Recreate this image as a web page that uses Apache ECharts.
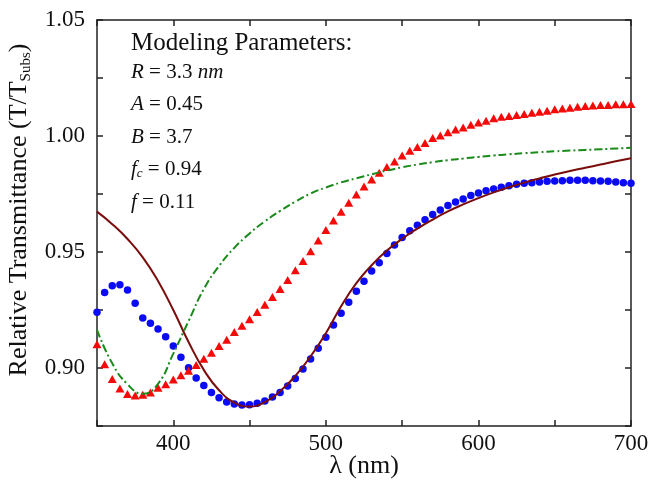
<!DOCTYPE html>
<html>
<head>
<meta charset="utf-8">
<script src="https://cdn.jsdelivr.net/npm/echarts@6/dist/echarts.min.js"></script>
<style>
  html, body { margin: 0; padding: 0; background: #fff; }
  #chart { width: 652px; height: 486px; }
</style>
</head>
<body>
<div id="chart"></div>
<script>
// measured points, every 5 nm
const lambdaPts = [
  350, 355, 360, 365, 370, 375, 380, 385, 390, 395,
  400, 405, 410, 415, 420, 425, 430, 435, 440, 445,
  450, 455, 460, 465, 470, 475, 480, 485, 490, 495,
  500, 505, 510, 515, 520, 525, 530, 535, 540, 545,
  550, 555, 560, 565, 570, 575, 580, 585, 590, 595,
  600, 605, 610, 615, 620, 625, 630, 635, 640, 645,
  650, 655, 660, 665, 670, 675, 680, 685, 690, 695, 700,
];
const bluePts = [
  0.9240, 0.9325, 0.9355, 0.9359, 0.9336, 0.9279, 0.9216, 0.9193, 0.9168, 0.9135,
  0.9095, 0.9046, 0.9001, 0.8957, 0.8925, 0.8894, 0.8872, 0.8853, 0.8845, 0.8840,
  0.8842, 0.8848, 0.8858, 0.8875, 0.8894, 0.8922, 0.8955, 0.8996, 0.9039, 0.9085,
  0.9133, 0.9185, 0.9236, 0.9283, 0.9331, 0.9374, 0.9418, 0.9454, 0.9494, 0.9530,
  0.9563, 0.9592, 0.9615, 0.9639, 0.9662, 0.9681, 0.9700, 0.9716, 0.9728, 0.9743,
  0.9754, 0.9764, 0.9772, 0.9779, 0.9786, 0.9792, 0.9796, 0.9799, 0.9802, 0.9805,
  0.9806, 0.9807, 0.9809, 0.9809, 0.9809, 0.9807, 0.9806, 0.9805, 0.9802, 0.9799, 0.9796,
];
const redPts = [
  0.9102, 0.9016, 0.8953, 0.8912, 0.8888, 0.8881, 0.8885, 0.8894, 0.8915, 0.8930,
  0.8950, 0.8969, 0.8988, 0.9013, 0.9040, 0.9066, 0.9095, 0.9122, 0.9155, 0.9182,
  0.9210, 0.9241, 0.9273, 0.9306, 0.9341, 0.9379, 0.9421, 0.9461, 0.9503, 0.9550,
  0.9595, 0.9636, 0.9673, 0.9712, 0.9748, 0.9782, 0.9812, 0.9842, 0.9866, 0.9890,
  0.9916, 0.9936, 0.9953, 0.9970, 0.9991, 1.0002, 1.0016, 1.0028, 1.0037, 1.0048,
  1.0058, 1.0066, 1.0076, 1.0083, 1.0086, 1.0090, 1.0095, 1.0100, 1.0105, 1.0109,
  1.0115, 1.0119, 1.0122, 1.0126, 1.0129, 1.0132, 1.0134, 1.0134, 1.0137, 1.0137, 1.0138,
];

// model curves, every 10 nm
const lambdaFit = [
  350, 360, 370, 380, 390, 400, 410, 420, 430, 440,
  450, 460, 470, 480, 490, 500, 510, 520, 530, 540,
  550, 560, 570, 580, 590, 600, 610, 620, 630, 640,
  650, 660, 670, 680, 690, 700,
];
const brownFit = [
  0.9674, 0.9620, 0.9556, 0.9477, 0.9375, 0.9250, 0.9112, 0.8992, 0.8904, 0.8851,
  0.8834, 0.8853, 0.8900, 0.8966, 0.9050, 0.9150, 0.9266, 0.9366, 0.9443, 0.9506,
  0.9557, 0.9601, 0.9640, 0.9675, 0.9705, 0.9732, 0.9757, 0.9779, 0.9799, 0.9817,
  0.9834, 0.9849, 0.9863, 0.9877, 0.9891, 0.9904,
];
const greenFit = [
  0.9164, 0.9020, 0.8930, 0.8889, 0.8932, 0.9062, 0.9202, 0.9340, 0.9440, 0.9518,
  0.9580, 0.9632, 0.9677, 0.9717, 0.9752, 0.9778, 0.9800, 0.9818, 0.9835, 0.9851,
  0.9865, 0.9877, 0.9887, 0.9896, 0.9903, 0.9910, 0.9916, 0.9921, 0.9926, 0.9930,
  0.9934, 0.9937, 0.9940, 0.9943, 0.9946, 0.9949,
];

const xLabels = [400, 500, 600, 700];
const yLabels = ['0.90', '0.95', '1.00', '1.05'];
const paramLines = [
  '{i|R} = 3.3 {i|nm}',
  '{i|A} = 0.45',
  '{i|B} = 3.7',
  '{i|f}{sub|c} = 0.94',
  '{i|f} = 0.11',
];

const FONT = 'Liberation Serif';
const INK = '#111';

const pairs = (xs, ys) => xs.map((x, i) => [x, ys[i]]);

const axisLine = { onZero: false, lineStyle: { color: '#222', width: 1.5 } };
const axisTick = { inside: true, length: 6, lineStyle: { color: '#222', width: 1.5 } };

const myChart = echarts.init(document.getElementById('chart'));

const paramGraphics = paramLines.map((t, i) => ({
  type: 'text',
  left: 131,
  top: 62 + i * 32.4,
  style: {
    text: t,
    font: '21px "' + FONT + '"',
    fill: INK,
    rich: {
      i: { fontFamily: FONT, fontSize: 21, fontStyle: 'italic', fill: INK },
      sub: { fontFamily: FONT, fontSize: 13, fontStyle: 'italic', fill: INK, verticalAlign: 'bottom', padding: [8, 0, 0, 0] },
    },
  },
}));

myChart.setOption({
  animation: false,
  grid: { left: 97, right: 21, top: 20, bottom: 60, outerBoundsMode: 'none', containLabel: false },
  xAxis: [
    {
      type: 'value',
      position: 'bottom',
      min: 350,
      max: 700,
      interval: 50,
      axisLine,
      axisTick,
      splitLine: { show: false },
      axisLabel: {
        fontFamily: FONT,
        fontSize: 23,
        color: INK,
        margin: 6,
        formatter: (v) => (xLabels.includes(Math.round(v)) ? String(Math.round(v)) : ''),
      },
      name: 'λ (nm)',
      nameLocation: 'middle',
      nameGap: 27,
      nameMoveOverlap: false,
      nameTextStyle: { fontFamily: FONT, fontSize: 26, color: INK },
    },
    {
      type: 'value',
      position: 'top',
      min: 350,
      max: 700,
      interval: 50,
      axisLine,
      axisTick,
      splitLine: { show: false },
      axisLabel: { show: false },
    },
  ],
  yAxis: [
    {
      type: 'value',
      position: 'left',
      min: 0.875,
      max: 1.05,
      interval: 0.025,
      axisLine,
      axisTick,
      splitLine: { show: false },
      axisLabel: {
        fontFamily: FONT,
        fontSize: 23,
        color: INK,
        margin: 12,
        formatter: (v) => {
          const s = v.toFixed(2);
          return yLabels.includes(s) && Math.abs(v - Number(s)) < 1e-6 ? s : '';
        },
      },
      name: 'Relative Transmittance (T/T{sub|Subs})',
      nameLocation: 'middle',
      nameGap: 63,
      nameMoveOverlap: false,
      nameTextStyle: {
        fontFamily: FONT,
        fontSize: 26,
        color: INK,
        lineHeight: 30,
        padding: [0, 0, 0, 26],
        rich: {
          sub: { fontFamily: FONT, fontSize: 15, color: INK, verticalAlign: 'bottom', lineHeight: 30 },
        },
      },
    },
    {
      type: 'value',
      position: 'right',
      min: 0.875,
      max: 1.05,
      interval: 0.025,
      axisLine,
      axisTick,
      splitLine: { show: false },
      axisLabel: { show: false },
    },
  ],
  graphic: [
    {
      type: 'text',
      left: 131,
      top: 31,
      style: { text: 'Modeling Parameters:', font: '25px "' + FONT + '"', fill: INK },
    },
    ...paramGraphics,
  ],
  series: [
    {
      name: 'measured A',
      type: 'scatter',
      data: pairs(lambdaPts, bluePts),
      symbol: 'circle',
      symbolSize: 7.5,
      itemStyle: { color: '#0a0af5', opacity: 1 },
      z: 2,
    },
    {
      name: 'measured B',
      type: 'scatter',
      data: pairs(lambdaPts, redPts),
      symbol: 'triangle',
      symbolSize: [9, 8],
      itemStyle: { color: '#f50a0a', opacity: 1 },
      z: 2,
    },
    {
      name: 'model brown',
      type: 'line',
      data: pairs(lambdaFit, brownFit),
      smooth: 0.5,
      showSymbol: false,
      lineStyle: { color: '#7a0c0c', width: 2 },
      z: 3,
    },
    {
      name: 'model green',
      type: 'line',
      data: pairs(lambdaFit, greenFit),
      smooth: 0.5,
      showSymbol: false,
      lineStyle: { color: '#1a8a1a', width: 2, type: [8, 3, 2, 3] },
      z: 3,
    },
  ],
});
</script>
</body>
</html>
